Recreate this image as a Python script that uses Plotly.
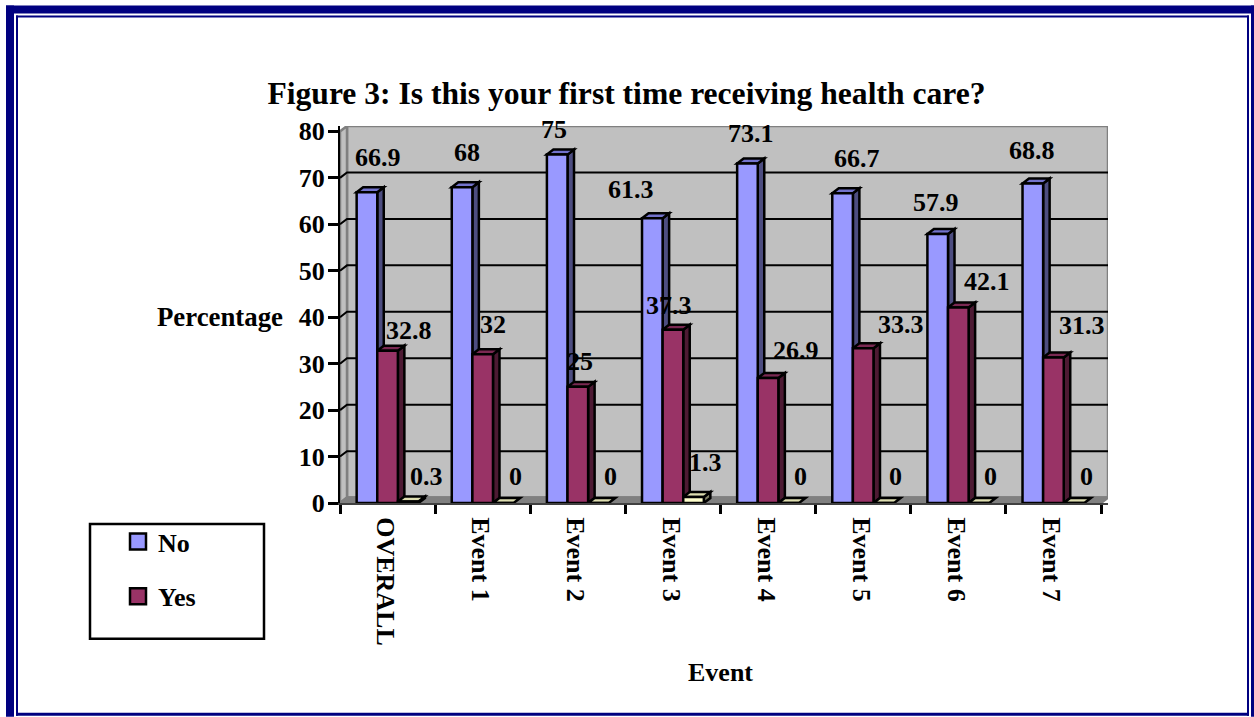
import plotly.graph_objects as go

# ---- data ----
CATEGORIES = ["OVERALL", "Event 1", "Event 2", "Event 3", "Event 4", "Event 5", "Event 6", "Event 7"]
NO_VALUES = [66.9, 68, 75, 61.3, 73.1, 66.7, 57.9, 68.8]
YES_VALUES = [32.8, 32, 25, 37.3, 26.9, 33.3, 42.1, 31.3]
OTHER_VALUES = [0.3, 0, 0, 1.3, 0, 0, 0, 0]
Y_TICKS = [0, 10, 20, 30, 40, 50, 60, 70, 80]

# ---- label nudges, pixels from the front top-centre of each bar ----
NO_NUDGE = [(11, 35), (5, 35), (-3, 25), (-21, 29), (4, 30), (14, 35), (-2, 32), (-1, 33)]
YES_NUDGE = [(21, 20), (10, 30), (2, 25), (-4, 24), (28, 28), (38, 24), (29, 26), (29, 32)]
OTHER_NUDGE = [(18, 25), (12, 27), (12, 27), (12, 34), (12, 27), (12, 27), (12, 27), (12, 27)]

# ---- layout geometry (pixels) ----
W, H = 1254, 717
LEFT, RIGHT, TOP, BOTTOM = 340, 1108, 125.6, 503
CAT_PX, VAL_PX = 95.125, 4.65
WALL_DX, WALL_DY = 7 / CAT_PX, 5.4 / VAL_PX
BAR_DX, BAR_DY = 6.5 / CAT_PX, 5 / VAL_PX
BARGAP = 0.35
SERIES_FONT = "Liberation Serif"
LBL = 26
EDGE = 2.5


def px_x(p):
    return (p - LEFT) / (RIGHT - LEFT)


def px_y(p):
    return (BOTTOM - p) / (BOTTOM - TOP)


def poly(points, fill, line="black", width=EDGE):
    d = "M " + " L ".join(f"{x},{y}" for x, y in points) + " Z"
    return dict(type="path", path=d, xref="x", yref="y", layer="below",
                fillcolor=fill, line=dict(color=line, width=width))


n = len(CATEGORIES)
x_pos = list(range(n))
x_lo, x_hi = -0.5, n - 0.5
shapes = []

# walls and floor
shapes.append(poly([(x_lo + WALL_DX, WALL_DY), (x_hi + WALL_DX, WALL_DY), (x_hi + WALL_DX, 80 + WALL_DY),
                    (x_lo + WALL_DX, 80 + WALL_DY)], "#C0C0C0", "#808080"))
shapes.append(poly([(x_lo, 0), (x_lo + WALL_DX, WALL_DY), (x_lo + WALL_DX, 80 + WALL_DY), (x_lo, 80)],
                   "#C0C0C0", "#808080"))
shapes.append(poly([(x_lo, 0), (x_hi, 0), (x_hi + WALL_DX, WALL_DY), (x_lo + WALL_DX, WALL_DY)],
                   "#808080", "#808080"))
# gridlines on the walls
for v in Y_TICKS[1:-1]:
    d = f"M {x_lo},{v} L {x_lo + WALL_DX},{v + WALL_DY} L {x_hi + WALL_DX},{v + WALL_DY}"
    shapes.append(dict(type="path", path=d, xref="x", yref="y", layer="below", line=dict(color="black", width=2)))

# 3-D faces of the bars
bar_w = (1 - BARGAP) / 3
faces = [(NO_VALUES, "#7373CC", "#4D4D80"), (YES_VALUES, "#7A2952", "#4D1A33"), (OTHER_VALUES, "#DEDEB0", "#808066")]
for s, (vals, top_c, side_c) in enumerate(faces):
    for i, v in enumerate(vals):
        xl = i - (1 - BARGAP) / 2 + s * bar_w
        xr = xl + bar_w
        if v > 0:
            shapes.append(poly([(xr, 0), (xr, v), (xr + BAR_DX, v + BAR_DY), (xr + BAR_DX, BAR_DY)], side_c))
        shapes.append(poly([(xl, v), (xr, v), (xr + BAR_DX, v + BAR_DY), (xl + BAR_DX, v + BAR_DY)], top_c))

# page frame
NAVY = "#000080"
for x0, y0, x1, y1 in [(6, 5, 14, 717), (6, 5, 1254, 13), (1251, 5, 1254, 717), (16, 15, 18, 716),
                       (16, 15, 1249, 17), (1247, 15, 1249, 716), (16, 713, 1249, 716)]:
    shapes.append(dict(type="rect", xref="paper", yref="paper", x0=px_x(x0), x1=px_x(x1), y0=px_y(y0), y1=px_y(y1),
                       fillcolor=NAVY, line=dict(width=0), layer="above"))
# legend box
shapes.append(dict(type="rect", xref="paper", yref="paper", x0=px_x(90), x1=px_x(264), y0=px_y(524), y1=px_y(639),
                   fillcolor="rgba(0,0,0,0)", line=dict(color="black", width=2.5), layer="above"))

fig = go.Figure()
fronts = [("No", NO_VALUES, "#9999FF"), ("Yes", YES_VALUES, "#993366"), ("Other", OTHER_VALUES, "#FFFFCC")]
for name, vals, col in fronts:
    fig.add_trace(go.Bar(name=name, x=x_pos, y=vals, showlegend=False,
                         marker=dict(color=col, line=dict(color="black", width=EDGE))))
# legend entries
for name, _, col in fronts[:2]:
    fig.add_trace(go.Scatter(name=name, x=[None], y=[None], mode="markers", legendgroup=name,
                             marker=dict(symbol="square", size=16, color=col, line=dict(color="black", width=2.5))))

# data labels
annotations = []
for s, (vals, nudge) in enumerate([(NO_VALUES, NO_NUDGE), (YES_VALUES, YES_NUDGE), (OTHER_VALUES, OTHER_NUDGE)]):
    for i, v in enumerate(vals):
        xc = i - (1 - BARGAP) / 2 + (s + 0.5) * bar_w
        annotations.append(dict(x=xc, y=v, xref="x", yref="y", text=f"<b>{v:g}</b>", showarrow=False,
                                xanchor="center", yanchor="middle", xshift=nudge[i][0], yshift=nudge[i][1],
                                font=dict(family=SERIES_FONT, size=LBL, color="black")))
annotations.append(dict(x=px_x(220), y=px_y(317), xref="paper", yref="paper", text="<b>Percentage</b>",
                        xanchor="center", yanchor="middle",
                        showarrow=False, font=dict(family=SERIES_FONT, size=26.8, color="black")))
annotations.append(dict(x=px_x(720), y=px_y(673), xref="paper", yref="paper", text="<b>Event</b>",
                        xanchor="center", yanchor="middle",
                        showarrow=False, font=dict(family=SERIES_FONT, size=LBL, color="black")))

fig.update_layout(
    width=W, height=H, autosize=False,
    margin=dict(l=LEFT, r=W - RIGHT, t=TOP, b=H - BOTTOM, pad=0),
    paper_bgcolor="white", plot_bgcolor="rgba(0,0,0,0)",
    barmode="group", bargap=BARGAP, bargroupgap=0,
    title=dict(text="<b>Figure 3: Is this your first time receiving health care?</b>",
               x=626.5 / W, xanchor="center", xref="container", y=1 - 93 / H, yanchor="middle",
               font=dict(family=SERIES_FONT, size=31.6, color="black")),
    font=dict(family=SERIES_FONT, color="black"),
    shapes=shapes, annotations=annotations,
    legend=dict(x=px_x(118), y=px_y(518), xanchor="left", yanchor="top", bgcolor="rgba(0,0,0,0)",
                tracegroupgap=18, itemwidth=30, font=dict(family=SERIES_FONT, size=LBL, weight="bold", color="black")),
    xaxis=dict(range=[x_lo, x_hi + WALL_DX], tickmode="array", tickvals=[p - 0.02 for p in x_pos],
               ticktext=[f"<b>{c}</b>" for c in CATEGORIES],
               tickangle=90, ticks="", ticklen=0, showgrid=False, zeroline=False, showline=True, linecolor="#404040",
               linewidth=2, ticklabelstandoff=7, tickfont=dict(family=SERIES_FONT, size=LBL, color="black"),
               minor=dict(tickmode="array", tickvals=[x_lo + i for i in range(n + 1)], ticks="outside", ticklen=9,
                          tickwidth=2.5, tickcolor="black", showgrid=False)),
    yaxis=dict(range=[0, 80 + WALL_DY], tickmode="array", tickvals=Y_TICKS, ticktext=[f"<b>{t}</b>" for t in Y_TICKS],
               ticks="outside", ticklen=10, tickwidth=2.5, tickcolor="black", showgrid=False, zeroline=False,
               showline=True, linecolor="black", linewidth=2, ticklabelstandoff=-2,
               tickfont=dict(family=SERIES_FONT, size=LBL, color="black")),
)

fig.write_html("out.html", post_script="document.body.style.margin='0';", config={"displayModeBar": False})
